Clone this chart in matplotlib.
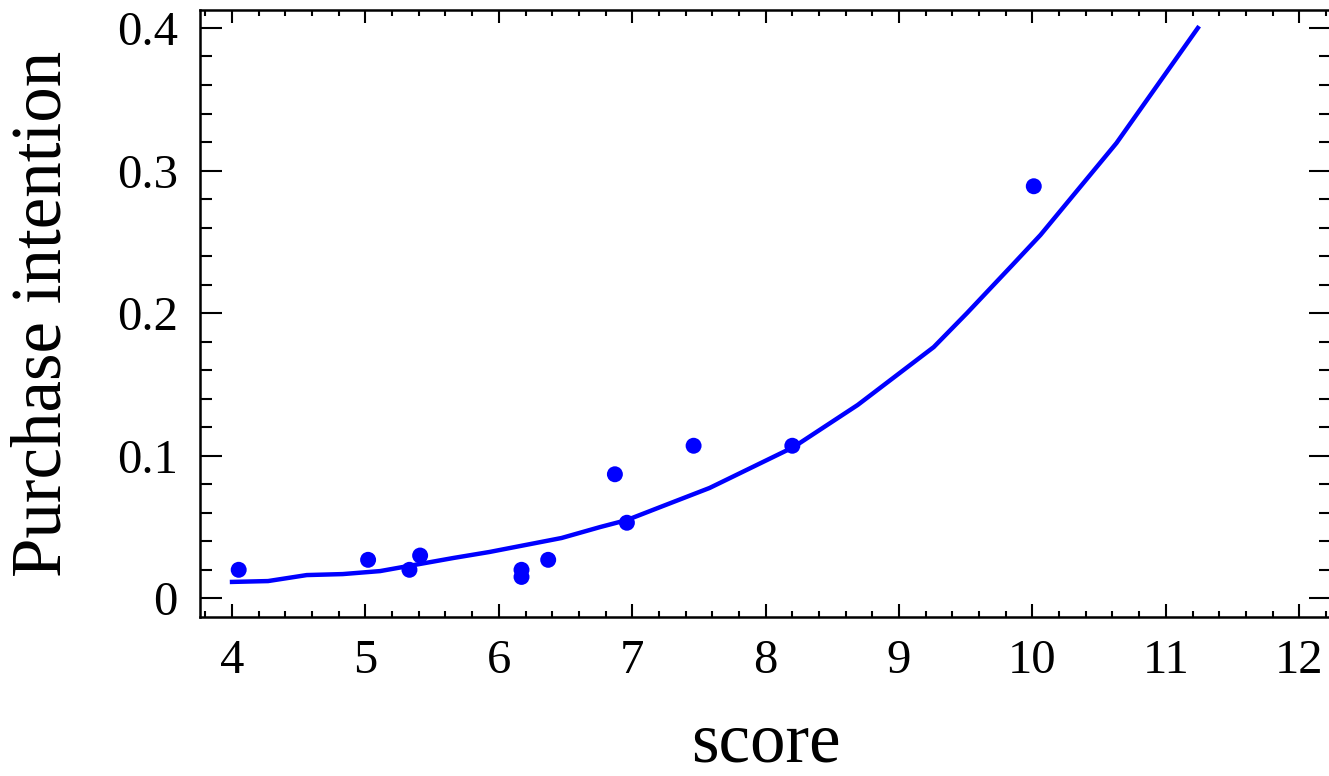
import matplotlib
matplotlib.use("Agg")

import matplotlib.pyplot as plt
from matplotlib.ticker import MultipleLocator


# ---------------- data ----------------
score = [4.05, 5.02, 5.33, 5.41, 6.17, 6.17, 6.37, 6.87, 6.96, 7.46, 8.20, 10.01]
intention = [0.020, 0.027, 0.020, 0.030, 0.020, 0.015, 0.027, 0.087, 0.053, 0.107, 0.107, 0.289]

# fitted curve, vertices as drawn
fit_x = [4.00, 4.27, 4.56, 4.83, 5.11, 5.66, 5.93, 6.47, 6.76, 6.96, 7.21,
         7.58, 8.21, 8.69, 9.26, 9.51, 9.85, 10.06, 10.63, 11.24]
fit_y = [0.0115, 0.0121, 0.0163, 0.0170, 0.0191, 0.0283, 0.0325, 0.0423, 0.0500,
         0.0549, 0.0640, 0.0774, 0.1061, 0.1356, 0.1762, 0.2001, 0.2338, 0.2548,
         0.3193, 0.4000]

x_ticks = [4, 5, 6, 7, 8, 9, 10, 11, 12]
y_ticks = [0, 0.1, 0.2, 0.3, 0.4]
y_tick_labels = ["0", "0.1", "0.2", "0.3", "0.4"]

plt.rcParams["font.family"] = ["Liberation Serif", "DejaVu Serif"]

fig = plt.figure(figsize=(13.29, 7.76), dpi=100)
ax = fig.add_axes([0.1505, 0.2049, 0.8510, 0.7822])

ax.plot(fit_x, fit_y, color="#0000ff", lw=3.2, solid_joinstyle="miter")
ax.scatter(score, intention, s=132, color="#0000ff", edgecolors="none", zorder=3)

ax.set_xlim(3.76, 12.238)
ax.set_ylim(-0.0131, 0.4126)

ax.set_xticks(x_ticks)
ax.set_yticks(y_ticks)
ax.set_yticklabels(y_tick_labels)
ax.xaxis.set_minor_locator(MultipleLocator(0.2))
ax.yaxis.set_minor_locator(MultipleLocator(0.02))

for s in ax.spines.values():
    s.set_linewidth(1.8)

ax.tick_params(axis="both", which="both", direction="in", top=True, right=True,
               width=1.5, labelsize=35)
ax.tick_params(axis="x", which="major", length=9.5, pad=16)
ax.tick_params(axis="x", which="minor", length=4.5)
ax.tick_params(axis="y", which="major", length=16, pad=16)
ax.tick_params(axis="y", which="minor", length=8.5)

ax.set_xlabel("score", fontsize=51)
ax.set_ylabel("Purchase intention", fontsize=51)
ax.xaxis.set_label_coords(0.5, -0.156)
ax.yaxis.set_label_coords(-0.11, 0.5)

plt.savefig("out.png")
plt.close()
